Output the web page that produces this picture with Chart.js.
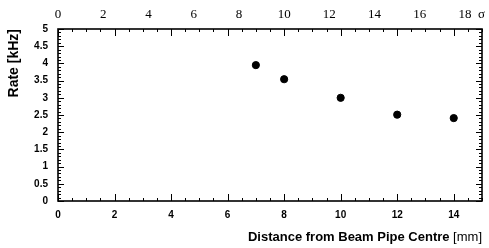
<!DOCTYPE html>
<html><head><meta charset="utf-8">
<style>html,body{margin:0;padding:0;background:#fff;}#wrap{width:489px;height:248px;position:relative;}</style>
<script src="https://cdn.jsdelivr.net/npm/chart.js@4/dist/chart.umd.min.js"></script>
</head><body><div id="wrap"><canvas id="c" width="489" height="248"></canvas></div>
<script>
const distances = [7, 8, 10, 12, 14];
const rates = [3.95, 3.54, 3.0, 2.51, 2.41];
const xTickValues = [0, 2, 4, 6, 8, 10, 12, 14];
const sigmaTickValues = [0, 2, 4, 6, 8, 10, 12, 14, 16, 18];
const yTickValues = [0, 0.5, 1, 1.5, 2, 2.5, 3, 3.5, 4, 4.5, 5];
const xTitleMain = 'Distance from Beam Pipe Centre ';
const xTitleUnit = '[mm]';
const yTitle = 'Rate [kHz]';
const sigmaLabel = 'σ';

const PLOT = {left: 58, right: 482, top: 29, bottom: 201};

const frameTicks = {
  id: 'frameTicks',
  afterDraw(chart) {
    const ctx = chart.ctx;
    const xs = chart.scales.x, ys = chart.scales.y;
    const a = chart.chartArea;
    ctx.save();
    ctx.strokeStyle = '#000';
    ctx.lineWidth = 1;
    for (let v = 0; v <= 15.001; v += 0.5) {
      const px = Math.round(xs.getPixelForValue(v)) + 0.5;
      const major = Math.abs(v / 2 - Math.round(v / 2)) < 1e-6;
      const len = major ? 7 : 3;
      ctx.beginPath();
      ctx.moveTo(px, a.bottom); ctx.lineTo(px, a.bottom - len);
      ctx.moveTo(px, a.top); ctx.lineTo(px, a.top + len);
      ctx.stroke();
    }
    for (let i = 0; i <= 50; i++) {
      const v = i / 10;
      const py = Math.round(ys.getPixelForValue(v)) + 0.5;
      const major = i % 5 === 0;
      const len = major ? 6 : 3;
      ctx.beginPath();
      ctx.moveTo(a.left, py); ctx.lineTo(a.left + len, py);
      ctx.moveTo(a.right, py); ctx.lineTo(a.right - len, py);
      ctx.stroke();
    }
    ctx.lineWidth = 1.6;
    ctx.strokeRect(a.left, a.top, a.right - a.left, a.bottom - a.top);
    ctx.fillStyle = '#000';
    ctx.font = '13px "Liberation Serif", serif';
    ctx.textAlign = 'left';
    ctx.textBaseline = 'middle';
    ctx.fillText(sigmaLabel, 478, 15);
    // x title: bold main text + regular unit, right aligned at plot right
    ctx.textBaseline = 'alphabetic';
    ctx.textAlign = 'right';
    ctx.font = '13px "Liberation Sans", Arial, sans-serif';
    const unitW = ctx.measureText(xTitleUnit).width;
    ctx.fillText(xTitleUnit, a.right, 241);
    ctx.font = 'bold 13px "Liberation Sans", Arial, sans-serif';
    ctx.fillText(xTitleMain, a.right - unitW, 241);
    ctx.restore();
  }
};

new Chart(document.getElementById('c'), {
  type: 'scatter',
  data: {
    datasets: [{
      data: distances.map((d, i) => ({x: d, y: rates[i]})),
      backgroundColor: '#000',
      borderColor: '#000',
      pointRadius: 3.6,
      pointHoverRadius: 3.6
    }]
  },
  options: {
    responsive: false,
    animation: false,
    events: [],
    layout: {padding: 0},
    plugins: {legend: {display: false}, tooltip: {enabled: false}},
    scales: {
      x: {
        type: 'linear', position: 'bottom', min: 0, max: 15,
        afterFit(s) { s.height = 248 - PLOT.bottom; },
        afterBuildTicks(s) { s.ticks = xTickValues.map(v => ({value: v})); },
        grid: {display: false, drawTicks: false},
        border: {display: false},
        ticks: {padding: 8, color: '#000', font: {family: '"Liberation Sans", Arial, sans-serif', weight: 'bold', size: 10}, maxRotation: 0}
      },
      x2: {
        type: 'linear', position: 'top', min: 0, max: 18.75,
        afterFit(s) { s.height = PLOT.top; },
        afterBuildTicks(s) { s.ticks = sigmaTickValues.map(v => ({value: v})); },
        grid: {display: false, drawTicks: false},
        border: {display: false},
        ticks: {padding: 7, color: '#000', font: {family: '"Liberation Serif", "Times New Roman", serif', size: 13}, maxRotation: 0}
      },
      y: {
        type: 'linear', position: 'left', min: 0, max: 5,
        afterFit(s) { s.width = PLOT.left; },
        afterBuildTicks(s) { s.ticks = yTickValues.map(v => ({value: v})); },
        grid: {display: false, drawTicks: false},
        border: {display: false},
        ticks: {padding: 10, color: '#000', callback: v => String(v), font: {family: '"Liberation Sans", Arial, sans-serif', weight: 'bold', size: 10}},
        title: {display: true, text: yTitle, align: 'end', color: '#000', font: {family: '"Liberation Sans", Arial, sans-serif', weight: 'bold', size: 14}, padding: {top: 6, bottom: 0}}
      },
      y2: {
        type: 'linear', position: 'right', min: 0, max: 5,
        afterFit(s) { s.width = 489 - PLOT.right; },
        grid: {display: false, drawTicks: false},
        border: {display: false},
        ticks: {display: false}
      }
    }
  },
  plugins: [frameTicks]
});
</script></body></html>
